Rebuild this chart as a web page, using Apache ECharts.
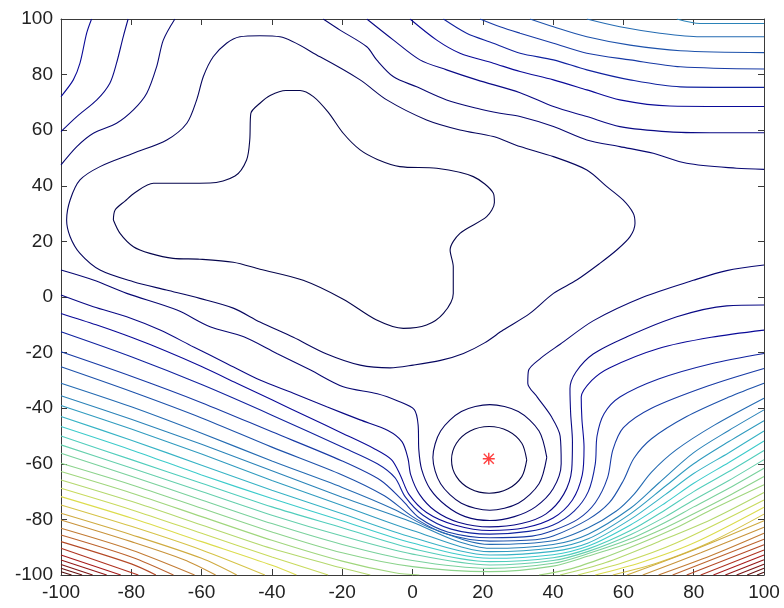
<!DOCTYPE html>
<html><head><meta charset="utf-8">
<script src="https://cdn.jsdelivr.net/npm/echarts@6/dist/echarts.min.js"></script>
<style>html,body{margin:0;padding:0;background:#fff}#c{width:784px;height:608px}</style>
</head><body><div id="c"></div>
<script>
// ---- axis ticks ----
const xTicks = [-100,-80,-60,-40,-20,0,20,40,60,80,100];
const yTicks = [-100,-80,-60,-40,-20,0,20,40,60,80,100];
const levelCount = 33;
const minimumPoint = [21.7, -58.2];

// ---- contour lines: [x, y] points ----
const L01_plateau = [[-85.1,27.7],[-83.2,22.9],[-79.4,18.1],[-74.7,15.7],[-68.1,13.9],[-60.5,13.6],[-51,12.5],[-43.4,10],[-31.1,6],[-19.7,-0.8],[-10.2,-8.3],[-2.6,-11.3],[4,-10.1],[8.8,-5.9],[11.6,1.3],[11.6,10.9],[10.7,16.9],[13.5,22.9],[21.1,28.9],[23.3,34],[23,37.3],[17.3,43.3],[6.9,46.3],[-3.6,46.9],[-10,49.5],[-14.9,52.9],[-19.7,58.9],[-24,66.5],[-28.2,72.1],[-32,74.3],[-36,74.3],[-40.5,72.5],[-43.4,69.7],[-46,66],[-46.3,56.5],[-47.2,49.3],[-50.5,43.5],[-57.6,41],[-65,40.9],[-73.7,40.9],[-79,37.5],[-81.8,34.5],[-84.6,31.3],[-85.1,27.7]];
const L01_ring = [[32.5,-58.6],[31.1,-52.6],[27.2,-48.2],[21.8,-46.6],[16.4,-48.2],[12.5,-52.6],[11.1,-58.6],[12.5,-64.6],[16.4,-69],[21.8,-70.6],[27.2,-69],[31.1,-64.6],[32.5,-58.6]];
const L02_loop = [[-43.4,94],[-49.1,93.6],[-52.9,91.3],[-56.7,86.4],[-59.5,79.3],[-61.4,70.9],[-64.2,62.5],[-69.9,56.5],[-79.4,51.7],[-88.9,46.9],[-94.6,42.1],[-97.4,34.9],[-98.4,27.7],[-97.4,21.7],[-94.6,15.7],[-88.9,9.7],[-79.4,5.5],[-70,2.5],[-60.5,-0.5],[-51,-4],[-43.4,-9],[-33.9,-14.5],[-24.4,-20.5],[-14.9,-24.5],[-6.4,-25.5],[0.2,-24.5],[8,-22.8],[14.5,-20.3],[20.5,-16.5],[25.8,-11.9],[33.4,-5.9],[40.1,1.3],[46.7,6.1],[53.3,12.1],[58.1,16.9],[61.9,21.7],[63.3,26.5],[62.8,30.1],[59.9,34.9],[55.3,39.7],[49.6,45.7],[40.1,50.5],[30.6,54.1],[23,57.7],[13.5,60.1],[4,63.7],[-7.3,70.9],[-14.9,78.1],[-26.3,86.4],[-37.7,93.6],[-43.4,94]];
const L02_ring = [[38.2,-57.7],[36,-48.2],[30.1,-41.2],[22,-38.7],[13.9,-41.2],[8,-48.2],[5.8,-57.7],[8,-67.2],[13.9,-74.2],[22,-76.7],[30.1,-74.2],[36,-67.2],[38.2,-57.7]];

const L03_corner = [[-67.6,100],[-70.9,92.4],[-72.8,82.8],[-75.6,73.3],[-79.4,67.3],[-84.2,62.5],[-90.8,58.9],[-95.5,54.1],[-100,47.5]];
const L04_corner = [[-80.9,100],[-82.3,93.6],[-84.2,84.1],[-86.1,76.9],[-89.8,70.9],[-95.5,64.9],[-100,59.5]];
const L05_corner = [[-91.3,100],[-92.7,94.9],[-94.6,84.1],[-96.5,78.1],[-100,72.1]];

const L03_top = [[-25.4,100],[-20.6,96],[-13,90],[-10.2,85.3],[-5.4,79.2],[1.2,75.6],[9.7,70.9],[18.3,67.9],[24.9,66.1],[30.6,64.9],[40.1,61.3],[49.6,56.5],[59,54.1],[68.5,51.7],[78,48.1],[92.2,46.3],[100,45.9]];
const L04_top = [[-13,100],[-5.4,92.4],[2.1,85.3],[9.7,81.7],[18.3,78.1],[30.6,73.5],[40.1,68.5],[49.6,64.9],[59,61.3],[73.2,59.4],[84.6,59.1],[100,59.1]];
const L05_top = [[-0.7,100],[6.9,92.4],[13.5,87.7],[23,84.1],[30.6,81.1],[40.1,78.1],[49.6,74.5],[59,70.9],[73.2,68.7],[100,68.5]];
const L06_top = [[8.8,100],[15.4,94.9],[23,91.3],[30.6,87.7],[40.1,85.3],[49.6,81.7],[61.9,78.1],[76.2,75.6],[100,75.4]];
const L07_top = [[19.2,100],[24.9,97.2],[30.6,94.9],[40.1,91.3],[49.6,87.7],[61.9,85.3],[76.2,82.8],[100,82]];
const L08_top = [[33.4,100],[40.1,97.2],[49.6,93.6],[61.9,90.6],[76.2,88.6],[100,87.9]];
const L09_top = [[49.6,100],[59,97.2],[70.4,94.9],[81.8,93.6],[100,93.6]];
const L10_top = [[75.2,100],[81.8,98.4],[100,98.4]];

const L03_low = [[-100,9.7],[-90.8,6.1],[-81.3,1.3],[-67,-4.7],[-57.6,-10.7],[-48,-14.3],[-38.6,-20.3],[-29,-26.3],[-19.7,-32.3],[-10,-34.8],[-4,-37.5],[0.5,-40.5],[1.6,-46],[1.8,-55],[2.6,-62],[5,-69],[9.5,-75],[15,-79],[22,-80.4],[29,-79],[35,-75.5],[40,-69],[42.3,-60],[42,-50],[39.5,-43],[35.5,-36],[32.8,-31],[33,-26.5],[36.5,-22],[42,-17],[51.5,-8.5],[65.7,0],[79.9,6],[89.4,9.5],[100,11.5]];
const L04_low = [[-100,0.7],[-90.8,-3.5],[-81.3,-7.1],[-71.8,-11.9],[-62.4,-17.9],[-52.9,-23.9],[-43.4,-29.9],[-33.9,-34.6],[-24.4,-39.5],[-14.9,-44.2],[-7,-48],[-3,-52],[-1.3,-58],[-0.5,-64],[2,-71],[6.5,-77],[13,-81],[22,-82.7],[31,-81.5],[38,-78],[43,-71],[45.3,-62],[45.5,-52],[45,-42],[44.8,-33],[46.5,-27],[51.4,-20.5],[61,-14.3],[75.2,-7.1],[89.4,-3.2],[100,-2.9]];
const L05_low = [[-100,-5.9],[-90,-10],[-80,-14.5],[-70,-19.5],[-60,-25],[-50,-31],[-40,-37],[-30,-43],[-20,-49],[-11,-54.5],[-6,-58.5],[-3.5,-64],[-1,-71],[4,-77.5],[12,-82],[22,-84],[32,-83],[40,-79.5],[45.5,-73],[48.3,-64],[48.8,-54],[48.2,-44],[48,-36],[51,-30],[56,-25.5],[70,-18.5],[85,-14.5],[100,-11.9]];
const L06_low = [[-100,-12.5],[-80,-21.5],[-60,-31.5],[-40,-42.5],[-20,-54],[-10,-60],[-5,-65],[-2,-72],[3,-78.5],[11,-83.5],[22,-85.3],[33,-84.3],[40,-82],[46,-77],[50,-70],[52,-60],[52.5,-50],[54.5,-42],[59,-36],[70,-29.5],[85,-24],[100,-20.3]];
const L07_low = [[-100,-19.7],[-80,-28.5],[-60,-38],[-40,-48.5],[-20,-59],[-9,-66],[-3,-73],[2,-79.5],[10,-84.5],[22,-86.6],[34,-86],[40,-84],[47,-80],[52,-74],[55.5,-65],[57,-55],[60,-47],[68,-40],[84,-32],[100,-25.7]];
const L08_low = [[-100,-25.1],[-80,-34],[-60,-43.5],[-40,-54],[-20,-64],[-8,-71.5],[0,-79],[9,-85],[22,-87.8],[35,-87.3],[40,-86],[50,-80],[56,-74],[60,-66],[63,-58],[68,-51],[78,-43],[90,-36],[100,-31]];
const L09_low = [[-100,-31],[-80,-39.5],[-60,-49],[-40,-59],[-20,-68.5],[-5,-76.5],[5,-83],[22,-89],[40,-87.7],[50,-83],[58,-77],[63,-71],[68,-63],[75,-55],[86,-46],[100,-36.4]];
const L10_low = [[-100,-35.5],[-80,-44],[-60,-53],[-40,-62.5],[-20,-72],[0,-81],[12,-87.5],[22,-90.4],[40,-89],[50,-85.3],[62,-76],[70,-67],[80,-56],[90,-48],[100,-40.6]];
const L11_low = [[-100,-39],[-80,-47.5],[-60,-56.5],[-40,-66],[-20,-75],[0,-84],[22,-91.6],[40,-90.3],[50,-87],[62,-78],[72,-68],[80,-60],[90,-52],[100,-44.5]];
const L12_low = [[-100,-43],[-80,-51.5],[-60,-60.5],[-40,-69.5],[-20,-78],[0,-86.5],[22,-92.8],[40,-91.5],[50,-88.5],[62,-80],[72,-71],[80,-63.5],[90,-56],[100,-48.2]];
const L13_low = [[-100,-46.6],[-80,-55],[-60,-64],[-40,-72.5],[-20,-80.5],[0,-88.5],[22,-94],[40,-92.7],[50,-89.6],[62,-82],[72,-74],[80,-67],[90,-59.5],[100,-51.8]];
const L14_low = [[-100,-50],[-80,-58.5],[-60,-67],[-40,-75.5],[-20,-83],[0,-90.5],[22,-95.2],[40,-93.8],[50,-90.6],[62,-84],[72,-76.5],[80,-70],[90,-62.8],[100,-55.2]];
const L15_low = [[-100,-53.2],[-80,-61.5],[-60,-70],[-40,-78.5],[-20,-86],[0,-92.5],[22,-96.4],[40,-94.8],[50,-91.5],[62,-85.5],[72,-79],[80,-73],[90,-66],[100,-58.5]];
const L16_low = [[-100,-56.2],[-80,-64.5],[-60,-73],[-40,-81.5],[-20,-89],[0,-94.8],[22,-97.6],[40,-95.8],[50,-92.3],[62,-87],[72,-81],[80,-75.5],[90,-68.8],[100,-61.6]];
const L17_low = [[-100,-59.8],[-80,-67.5],[-60,-76],[-40,-84.5],[-20,-92],[0,-97],[22,-98.8],[40,-96.8],[50,-93.2],[62,-88.3],[72,-83],[80,-78],[90,-71.5],[100,-64.6]];

const L18_left = [[-100,-62.8],[-80,-70.5],[-60,-79],[-40,-87.5],[-20,-95],[-5,-99.2],[2,-100]];
const L18_right = [[36,-100],[45,-97.8],[55,-93.5],[65,-88.5],[75,-83],[85,-76.5],[100,-67.5]];
const L19_left = [[-100,-65.8],[-80,-73.5],[-60,-82],[-40,-90.5],[-20,-97.5],[-12,-100]];
const L19_right = [[42,-100],[55,-95.5],[70,-88],[85,-80],[100,-70.3]];
const L20_left = [[-100,-68.8],[-80,-76.5],[-60,-85],[-40,-93.5],[-24,-100]];
const L20_right = [[47,-100],[60,-95.5],[75,-88.5],[100,-73]];
const L21_left = [[-100,-71.8],[-80,-79.5],[-60,-88],[-40,-96.5],[-33,-100]];
const L21_right = [[52,-100],[65,-95.5],[80,-88.5],[100,-75.6]];
const L22_left = [[-100,-74.8],[-80,-82.5],[-60,-91],[-42,-100]];
const L22_right = [[57,-100],[70,-95.5],[85,-88],[100,-78.1]];
const L23_left = [[-100,-77.8],[-80,-85.5],[-60,-94],[-50,-100]];
const L23_right = [[61,-100],[80,-91],[100,-80.5]];
const L24_left = [[-100,-80.2],[-80,-88],[-65,-94.5],[-56,-100]];
const L24_right = [[65.5,-100],[82,-92],[100,-82.8]];
const L25_left = [[-100,-83.2],[-80,-91],[-62,-100]];
const L25_right = [[70,-100],[85,-93],[100,-85]];
const L26_left = [[-100,-85.6],[-80,-93.5],[-68,-100]];
const L26_right = [[74,-100],[100,-87.1]];
const L27_left = [[-100,-88],[-80,-96],[-73,-100]];
const L27_right = [[78,-100],[100,-89.1]];
const L28_left = [[-100,-90.4],[-78,-100]];
const L28_right = [[82,-100],[100,-91]];
const L29_left = [[-100,-92.8],[-83,-100]];
const L29_right = [[85.6,-100],[100,-92.8]];
const L30_left = [[-100,-94.6],[-87,-100]];
const L30_right = [[89,-100],[100,-94.5]];
const L31_left = [[-100,-96.2],[-91,-100]];
const L31_right = [[92.2,-100],[100,-96.1]];
const L32_left = [[-100,-97.6],[-94,-100]];
const L32_right = [[95.2,-100],[100,-97.6]];
const L33_left = [[-100,-98.8],[-97,-100]];
const L33_right = [[98,-100],[100,-99]];

// level index for each contour piece
const contourPieces = [
  [1,L01_plateau],[1,L01_ring],[2,L02_loop],[2,L02_ring],
  [3,L03_corner],[4,L04_corner],[5,L05_corner],
  [3,L03_top],[4,L04_top],[5,L05_top],[6,L06_top],[7,L07_top],[8,L08_top],[9,L09_top],[10,L10_top],
  [3,L03_low],[4,L04_low],[5,L05_low],[6,L06_low],[7,L07_low],[8,L08_low],[9,L09_low],[10,L10_low],
  [11,L11_low],[12,L12_low],[13,L13_low],[14,L14_low],[15,L15_low],[16,L16_low],[17,L17_low],
  [18,L18_left],[18,L18_right],[19,L19_left],[19,L19_right],[20,L20_left],[20,L20_right],
  [21,L21_left],[21,L21_right],[22,L22_left],[22,L22_right],[23,L23_left],[23,L23_right],
  [24,L24_left],[24,L24_right],[25,L25_left],[25,L25_right],[26,L26_left],[26,L26_right],
  [27,L27_left],[27,L27_right],[28,L28_left],[28,L28_right],[29,L29_left],[29,L29_right],
  [30,L30_left],[30,L30_right],[31,L31_left],[31,L31_right],[32,L32_left],[32,L32_right],
  [33,L33_left],[33,L33_right]
];

// jet colour map, slightly muted like the photographed lines
function jet(t){
  let r = 1.5 - Math.abs(4*t - 3), g = 1.5 - Math.abs(4*t - 2), b = 1.5 - Math.abs(4*t - 1);
  r = Math.max(0,Math.min(1,r)); g = Math.max(0,Math.min(1,g)); b = Math.max(0,Math.min(1,b));
  const Y = 0.299*r + 0.587*g + 0.114*b, s = 0.62, k = 0.9;
  const f = v => Math.round(255*Math.max(0,Math.min(1,(Y + s*(v - Y))*k)));
  return 'rgb(' + f(r) + ',' + f(g) + ',' + f(b) + ')';
}

const series = contourPieces.map(([lvl, pts]) => ({
  type:'line', data:pts, showSymbol:false, smooth:0.3, silent:true,
  lineStyle:{width:1.1, color: jet((lvl-1)/(levelCount-1))}, z:2
}));
series.push({
  type:'scatter', data:[minimumPoint], silent:true, z:5,
  symbol:'path://M4.4,0H5.6V10H4.4Z M0,4.4H10V5.6H0Z M1.2,0.4L9.6,8.8L8.8,9.6L0.4,1.2Z M8.8,0.4L9.6,1.2L1.2,9.6L0.4,8.8Z',
  symbolSize:12, itemStyle:{color:'#ff1010'}
});

const axisColor = '#3a3a3a';
const labelStyle = {fontSize:19, color:'#222', fontFamily:'Liberation Sans, Arial, sans-serif'};
function mkAxis(pos, showLabel, ticks){
  return {
    type:'value', position:pos, min:-100, max:100, interval:20,
    axisLine:{show:true, onZero:false, lineStyle:{color:axisColor, width:1}},
    axisTick:{show:true, inside:true, length:6, lineStyle:{color:axisColor}},
    axisLabel:Object.assign({show:showLabel, margin:8, formatter:v=>String(v)}, labelStyle),
    splitLine:{show:false}
  };
}

const chart = echarts.init(document.getElementById('c'), null, {renderer:'canvas'});
chart.setOption({
  animation:false,
  backgroundColor:'#ffffff',
  grid:{left:61, top:19, width:703, height:556, containLabel:false},
  xAxis:[mkAxis('bottom', true, xTicks), mkAxis('top', false, xTicks)],
  yAxis:[mkAxis('left', true, yTicks), mkAxis('right', false, yTicks)],
  series: series
});
</script></body></html>
